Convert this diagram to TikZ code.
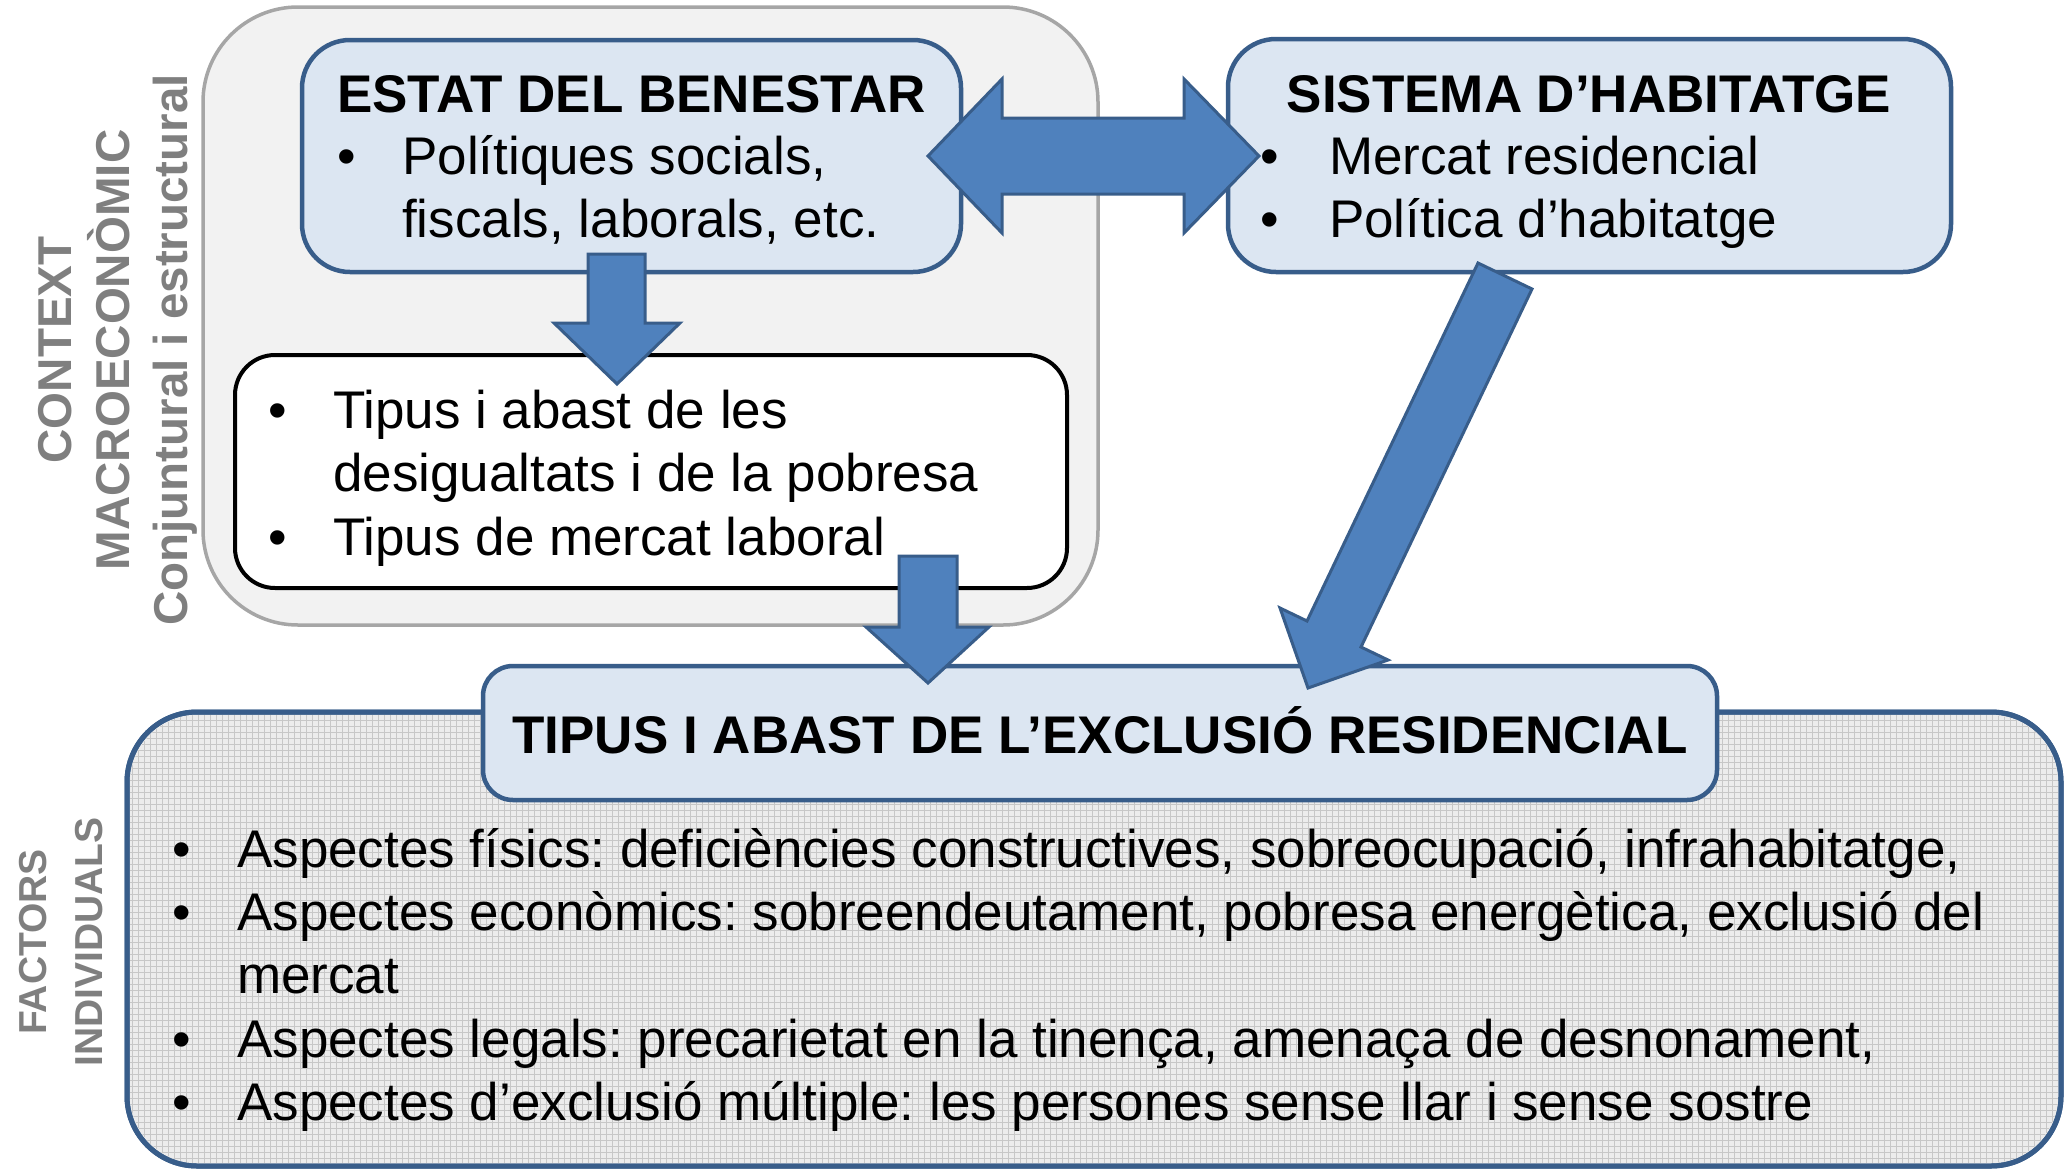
\documentclass[tikz,border=0pt]{standalone}
\usepackage{fontspec}
\setmainfont{Liberation Sans}
\definecolor{bfill}{HTML}{DCE6F2}
\definecolor{bdraw}{HTML}{385D8A}
\definecolor{afill}{HTML}{4F81BD}
\definecolor{gfill}{HTML}{F2F2F2}
\definecolor{gdraw}{HTML}{A6A6A6}
\definecolor{lab}{HTML}{7F7F7F}
\definecolor{pfill}{HTML}{ECECEC}
\newcommand\itm[2][65pt]{\makebox[#1][l]{•}#2}
\frenchspacing
\begin{document}
\begin{tikzpicture}[x=1pt,y=-1pt,
  bluebox/.style={draw=bdraw, fill=bfill, line width=4.5pt, rounded corners=48pt, inner sep=0pt},
  blockarrow/.style={draw=bdraw, fill=afill, line width=3pt, line join=miter},
  txt/.style={inner sep=0pt, anchor=base west, font=\fontsize{53}{63}\selectfont},
  ttl/.style={inner sep=0pt, anchor=base, font=\fontsize{53}{63}\selectfont\bfseries},
  sidelab/.style={rotate=90, align=center, text=lab, inner sep=0pt}]
\useasboundingbox (0,0) rectangle (2069,1170);
\fill[white] (0,0) rectangle (2069,1170);

% bottom patterned box
\node[draw=bdraw, fill=pfill, line width=5pt, rounded corners=70pt, inner sep=0pt,
      minimum width=1934pt, minimum height=454pt] (fact) at (1094,939) {};
\begin{scope}
  \clip[rounded corners=68pt] (130,715) rectangle (2058,1163);
  \draw[step=6pt, black!22, line width=0.6pt] (120,700) grid (2070,1170);
\end{scope}
\draw[bdraw, line width=5pt, rounded corners=70pt] (127,712) rectangle (2061,1166);

% context box
\node[draw=gdraw, fill=gfill, line width=3.5pt, rounded corners=95pt, inner sep=0pt,
      minimum width=895pt, minimum height=618pt] (ctx) at (650.5,316) {};

% blue boxes
\node[bluebox, minimum width=659pt, minimum height=232pt] (estat) at (631.5,156) {};
\node[bluebox, minimum width=723pt, minimum height=233pt] (sist) at (1589.5,155.5) {};
\node[draw=black, fill=white, line width=4pt, rounded corners=40pt, inner sep=0pt,
      minimum width=832pt, minimum height=233pt] (tip) at (651,471.5) {};
\node[bluebox, rounded corners=30pt, minimum width=1234pt, minimum height=134pt] (excl) at (1100,733) {};

% block arrows
\draw[blockarrow] (588,254) -- (645,254) -- (645,323) -- (680,323) -- (617,384)
   -- (554,323) -- (588,323) -- cycle;
\draw[blockarrow] (928,156) -- (1002,79) -- (1002,118) -- (1184,118) -- (1184,79)
   -- (1259,156) -- (1184,233) -- (1184,194) -- (1002,194) -- (1002,233) -- cycle;
\draw[blockarrow] (1478,263) -- (1307,621) -- (1280,608) -- (1308,688) -- (1388,660)
   -- (1361,647) -- (1532,289) -- cycle;
\draw[blockarrow] (899,556) -- (957,556) -- (957,627) -- (989,627) -- (928,683)
   -- (866,627) -- (899,627) -- cycle;

% texts
\node[ttl] (et) at (631.5,112) {ESTAT DEL BENESTAR};
\node[txt] (e1) at (337,174) {\itm{Polítiques socials,}};
\node[txt] (e2) at (337,237) {\hspace*{65pt}fiscals, laborals, etc.};

\node[ttl] (st) at (1589,112) {SISTEMA D’HABITATGE};
\node[txt] (s1) at (1260,174) {\itm[69pt]{Mercat residencial}};
\node[txt] (s2) at (1260,237) {\itm[69pt]{Política d’habitatge}};

\node[txt] (w1) at (268,428) {\itm{Tipus i abast de les}};
\node[txt] (w2) at (268,491) {\hspace*{65pt}desigualtats i de la pobresa};
\node[txt] (w3) at (268,555) {\itm{Tipus de mercat laboral}};

\node[ttl] (xt) at (1100,753) {TIPUS I ABAST DE L’EXCLUSIÓ RESIDENCIAL};
\node[txt] (b1) at (172,867) {\itm{Aspectes físics: deficiències constructives, sobreocupació, infrahabitatge,}};
\node[txt] (b2) at (172,930) {\itm{Aspectes econòmics: sobreendeutament, pobresa energètica, exclusió del}};
\node[txt] (b3) at (172,993) {\hspace*{65pt}mercat};
\node[txt] (b4) at (172,1057) {\itm{Aspectes legals: precarietat en la tinença, amenaça de desnonament,}};
\node[txt] (b5) at (172,1120) {\itm{Aspectes d’exclusió múltiple: les persones sense llar i sense sostre}};

% side labels
\node[sidelab, font=\fontsize{47.5}{58}\selectfont\bfseries] (ctxlab) at (117.5,350)
   {CONTEXT\\MACROECONÒMIC\\Conjuntural i estructural};
\node[sidelab, font=\fontsize{39}{56}\selectfont\bfseries] (faclab) at (61,942)
   {FACTORS\\INDIVIDUALS};
\end{tikzpicture}
\end{document}
